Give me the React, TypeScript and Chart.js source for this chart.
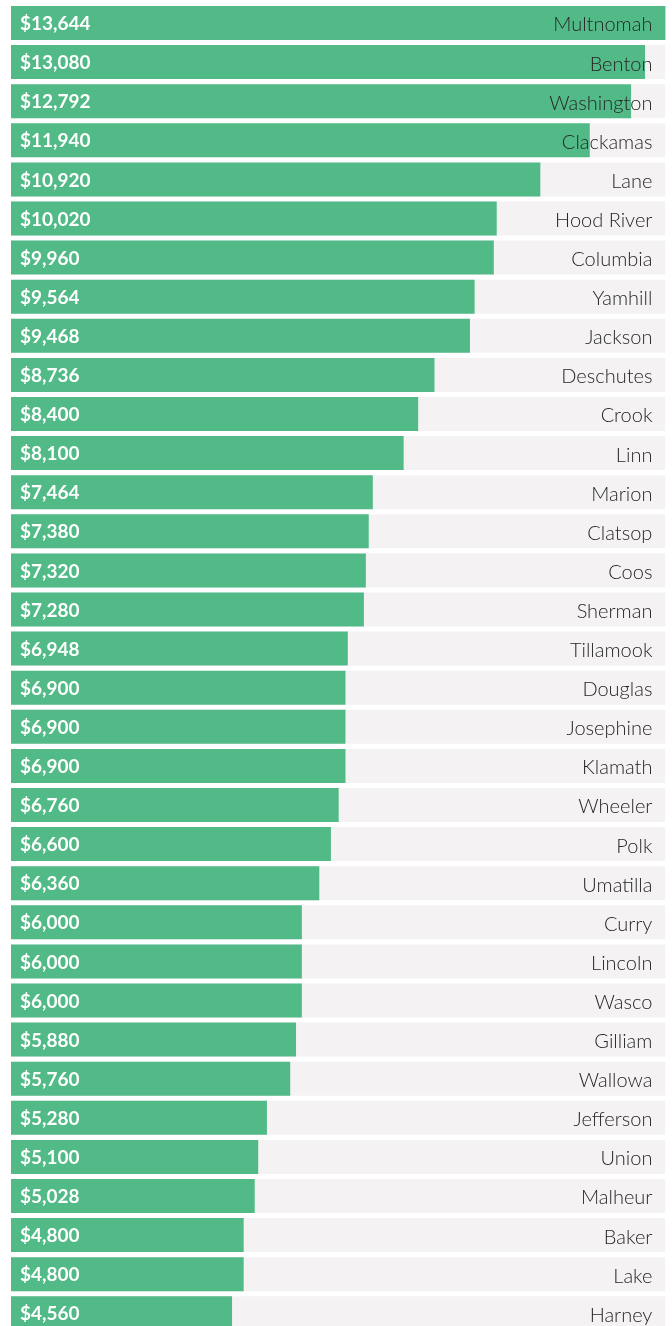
import React, { useEffect, useRef } from "react";
import { Chart, registerables } from "chart.js";

Chart.register(...registerables);

const counties = [
  "Multnomah", "Benton", "Washington", "Clackamas", "Lane", "Hood River", "Columbia",
  "Yamhill", "Jackson", "Deschutes", "Crook", "Linn", "Marion", "Clatsop", "Coos",
  "Sherman", "Tillamook", "Douglas", "Josephine", "Klamath", "Wheeler", "Polk",
  "Umatilla", "Curry", "Lincoln", "Wasco", "Gilliam", "Wallowa", "Jefferson", "Union",
  "Malheur", "Baker", "Lake", "Harney",
];

const values = [
  13644, 13080, 12792, 11940, 10920, 10020, 9960, 9564, 9468, 8736, 8400, 8100, 7464,
  7380, 7320, 7280, 6948, 6900, 6900, 6900, 6760, 6600, 6360, 6000, 6000, 6000, 5880,
  5760, 5280, 5100, 5028, 4800, 4800, 4560,
];

const axisMax = 13500;
const backgroundValues = counties.map(() => axisMax);

const GREEN = "#52BA87";
const GREY = "#F4F2F3";

const fmt = (v: number) => "$" + v.toLocaleString("en-US");

const labelPlugin = {
  id: "rowLabels",
  afterDatasetsDraw(chart: any) {
    const { ctx, chartArea, scales } = chart;
    const y = scales.y;
    ctx.save();
    ctx.textBaseline = "middle";
    counties.forEach((name, i) => {
      const cy = y.getPixelForValue(i);
      ctx.font = "bold 19px Lato";
      ctx.fillStyle = "#ffffff";
      ctx.textAlign = "left";
      ctx.fillText(fmt(values[i]), chartArea.left + 9, cy + 1);
      ctx.font = "300 20px Lato";
      ctx.fillStyle = "#262626";
      ctx.textAlign = "right";
      ctx.fillText(name, chartArea.right - 13, cy + 2);
    });
    ctx.restore();
  },
};

export default function App() {
  const ref = useRef<HTMLCanvasElement | null>(null);
  useEffect(() => {
    if (!ref.current) return;
    const chart = new Chart(ref.current, {
      type: "bar",
      data: {
        labels: counties,
        datasets: [
          {
            data: values,
            backgroundColor: GREEN,
            order: 0,
            grouped: false,
            barPercentage: 0.87,
            categoryPercentage: 1,
          },
          {
            data: backgroundValues,
            backgroundColor: GREY,
            order: 1,
            grouped: false,
            barPercentage: 0.87,
            categoryPercentage: 1,
          },
        ],
      },
      options: {
        indexAxis: "y",
        animation: false,
        responsive: false,
        layout: { padding: { left: 11, right: 6.6, top: 3.45, bottom: 3.15 } },
        scales: {
          x: { display: false, min: 0, max: axisMax },
          y: { display: false },
        },
        plugins: {
          legend: { display: false },
          tooltip: { enabled: false },
        },
      },
      plugins: [labelPlugin],
    });
    return () => chart.destroy();
  }, []);
  return (
    <div style={{ position: "absolute", left: 0, top: 0, width: 672, height: 1336 }}>
      <canvas ref={ref} width={672} height={1336} />
    </div>
  );
}
